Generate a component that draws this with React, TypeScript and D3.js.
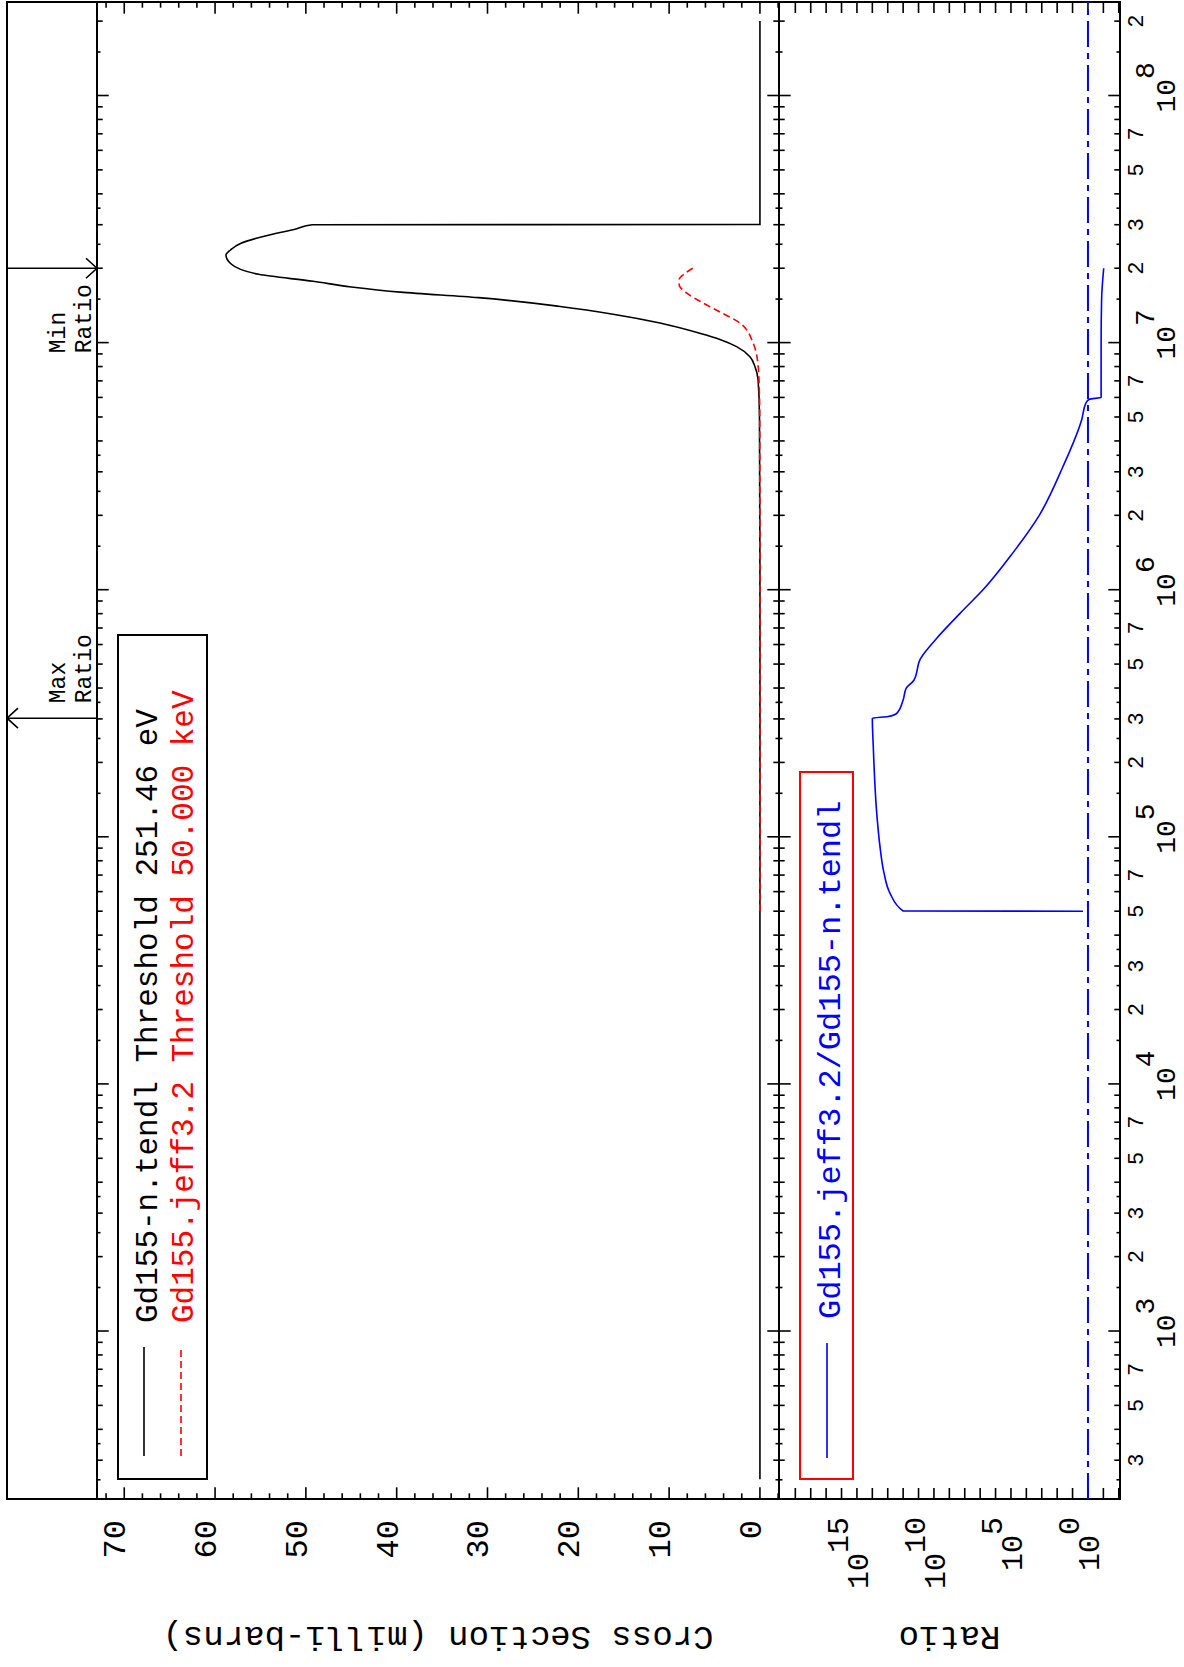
import React from 'react';
import * as d3 from 'd3';

// Gd155 (n,x) cross sections, energies in eV, values in milli-barns
const tendlEnergy = [251.46, 1e3, 1e5, 1e6, 5e6, 7.06e6, 8.0e6, 8.77e6, 9.63e6, 1.03e7, 1.09e7, 1.2e7, 1.3e7, 1.4e7, 1.52e7, 1.6e7, 1.68e7, 1.77e7, 1.89e7, 2.09e7, 2.26e7, 2.37e7, 2.52e7, 2.69e7, 2.89e7, 3.0e7, 3.005e7, 2.0e8];
const tendlXs = [0, 0, 0, 0, 0.05, 0.2, 0.55, 1.1, 2.57, 4.4, 6.6, 11, 16, 22, 31, 39.6, 45, 49.2, 55.2, 58.3, 58.8, 58.3, 57.2, 54.7, 51.0, 49.3, 0, 0];

const jeffEnergy = [5.0e4, 1e6, 5e6, 6.64e6, 8.0e6, 9.93e6, 1.2e7, 1.33e7, 1.47e7, 1.6e7, 1.72e7, 1.8e7, 1.9e7, 2.0e7];
const jeffXs = [0, 0, 0.02, 0.08, 0.19, 0.74, 2.2, 4.4, 6.6, 8.2, 8.9, 8.9, 8.3, 7.4];

// jeff3.2 / tendl ratio
const ratioEnergy = [5.0e4, 5.01e4, 5.92e4, 7.2e4, 9.15e4, 1.25e5, 2.32e5, 3.02e5, 3.07e5, 3.16e5, 3.58e5, 4.0e5, 4.3e5, 5.25e5, 6.4e5, 8.0e5, 1.02e6, 1.39e6, 2.0e6, 3.13e6, 4.9e6, 5.7e6, 5.9e6, 6.0e6, 1.0e7, 1.5e7, 2.0e7];
const ratioValue = [2.1, 1e12, 7.2e12, 1.8e13, 3.2e13, 5.2e13, 8.7e13, 1.0e14, 9.3e12, 2.6e12, 1.0e12, 6.3e11, 2e11, 7.6e10, 6e9, 2.1e8, 4.8e6, 8.9e4, 1.45e3, 44, 2.5, 1.35, 0.8, 0.14, 0.14, 0.13, 0.095];

const xsTicks = [0, 10, 20, 30, 40, 50, 60, 70];
const ratioTickExp = [0, 5, 10, 15];
const decades = [3, 4, 5, 6, 7, 8];
const digitLabels = [2, 3, 5, 7];

const legendLabels = ['Gd155-n.tendl Threshold 251.46 eV', 'Gd155.jeff3.2 Threshold 50.000 keV'];
const ratioLegend = 'Gd155.jeff3.2/Gd155-n.tendl';

const W = 1184;
const H = 1667;
const FONT = "'Liberation Mono', 'DejaVu Sans Mono', monospace";

// plot is laid out landscape (u = energy direction, v = down) then turned a quarter turn
const u0 = 168, u1 = 1665;
const v0 = 7, vTop = 97, vMid = 779, vBot = 1120;

export default function App() {
  const xE = d3.scaleLog().domain([209, 2.39e8]).range([u0, u1]);
  const yXs = d3.scaleLinear().domain([-2.1, 73.0]).range([vMid, vTop]);
  const yR = d3.scaleLog().domain([Math.pow(10, -2.08), Math.pow(10, 20.06)]).range([vBot, vMid]);

  const xsLine = d3.line<[number, number]>()
    .x(d => xE(d[0]))
    .y(d => yXs(d[1]))
    .curve(d3.curveMonotoneX);
  const ratioLine = d3.line<[number, number]>()
    .x(d => xE(d[0]))
    .y(d => yR(d[1]))
    .curve(d3.curveMonotoneX);

  const tendl = tendlEnergy.map((e, i) => [e, tendlXs[i]] as [number, number]);
  const jeff = jeffEnergy.map((e, i) => [e, jeffXs[i]] as [number, number]);
  const ratio = ratioEnergy.map((e, i) => [e, ratioValue[i]] as [number, number]);

  const maxIdx = d3.maxIndex(ratioValue);
  const minIdx = d3.minIndex(ratioValue);
  const uMax = xE(ratioEnergy[maxIdx]);
  const uMin = xE(ratioEnergy[minIdx]);

  // energy ticks
  const eTicks: { u: number; len: number }[] = [];
  for (let d = 2; d <= 8; d++) {
    [1, 1.5, 2, 2.5, 3, 3.5, 4, 5, 6, 7, 8, 9].forEach(m => {
      const e = m * Math.pow(10, d);
      const [lo, hi] = xE.domain();
      if (e < lo || e > hi) return;
      const len = m === 1 ? 11.7 : (m === 1.5 || m === 2.5 || m === 3.5) ? 3.5 : 5.7;
      eTicks.push({ u: xE(e), len });
    });
  }
  const eDigits: { u: number; m: number }[] = [];
  for (let d = 2; d <= 8; d++) {
    digitLabels.forEach(m => {
      const e = m * Math.pow(10, d);
      const [lo, hi] = xE.domain();
      if (e >= lo && e <= hi) eDigits.push({ u: xE(e), m });
    });
  }

  const xsMinor = d3.range(-2, 73, 2);
  const ratioMinor = d3.range(-2, 20, 1);

  return (
    <svg width={W} height={H} style={{ position: 'absolute', left: 0, top: 0, display: 'block', background: '#fff' }}>
      <g transform={`translate(0,${H}) rotate(-90)`} fontFamily={FONT}>
        {/* frame and panel dividers */}
        <rect x={u0} y={v0} width={u1 - u0} height={vBot - v0} fill="none" stroke="#000" strokeWidth={2} />
        <line x1={u0} x2={u1} y1={vTop} y2={vTop} stroke="#000" strokeWidth={2} />
        <line x1={u0} x2={u1} y1={vMid} y2={vMid} stroke="#000" strokeWidth={2} />

        {/* energy ticks */}
        {eTicks.map((t, i) => (
          <g key={'et' + i} stroke="#000" strokeWidth={1.6}>
            <line x1={t.u} x2={t.u} y1={vTop} y2={vTop + t.len} />
            <line x1={t.u} x2={t.u} y1={vMid - t.len} y2={vMid + t.len} />
            <line x1={t.u} x2={t.u} y1={vBot - t.len} y2={vBot} />
          </g>
        ))}
        {decades.map(d => (
          <text key={'ed' + d} x={xE(Math.pow(10, d)) - 17} y={1175} fontSize={28} fill="#000">
            10<tspan dy={-21}>{d}</tspan>
          </text>
        ))}
        {eDigits.map((t, i) => (
          <text key={'eg' + i} x={t.u} y={1143} fontSize={22} textAnchor="middle" fill="#000">{t.m}</text>
        ))}

        {/* cross section axis */}
        {xsMinor.map(val => {
          const len = val % 10 === 0 ? 11.7 : 5.7;
          const v = yXs(val);
          return (
            <g key={'xt' + val} stroke="#000" strokeWidth={1.6}>
              <line x1={u0} x2={u0 + len} y1={v} y2={v} />
              <line x1={u1 - len} x2={u1} y1={v} y2={v} />
            </g>
          );
        })}
        {xsTicks.map(val => (
          <text key={'xl' + val} x={147} y={yXs(val) + 1} fontSize={32} textAnchor="end" fill="#000">{val}</text>
        ))}

        {/* ratio axis */}
        {ratioMinor.map(k => {
          const v = yR(Math.pow(10, k));
          return (
            <g key={'rt' + k} stroke="#000" strokeWidth={1.6}>
              <line x1={u0} x2={u0 + 11} y1={v} y2={v} />
              <line x1={u1 - 11} x2={u1} y1={v} y2={v} />
            </g>
          );
        })}
        {ratioTickExp.map(k => (
          <text key={'rl' + k} x={150} y={yR(Math.pow(10, k)) + 11} fontSize={30} textAnchor="end" fill="#000">
            10<tspan dy={-20}>{k}</tspan>
          </text>
        ))}

        {/* axis titles */}
        <text transform={`translate(40,${(vTop + vMid) / 2}) rotate(-90)`} fontSize={34} textAnchor="middle" fill="#000">Cross Section (milli-barns)</text>
        <text transform={`translate(40,${(vMid + vBot) / 2}) rotate(-90)`} fontSize={34} textAnchor="middle" fill="#000">Ratio</text>

        {/* curves */}
        <path d={xsLine(tendl) || ''} fill="none" stroke="#000" strokeWidth={1.6} />
        <path d={xsLine(jeff) || ''} fill="none" stroke="#ff0000" strokeWidth={1.6} strokeDasharray="7,4" />
        <line x1={u0} x2={u1} y1={yR(1)} y2={yR(1)} stroke="#0000ff" strokeWidth={2} strokeDasharray="26,6,6,6" />
        <path d={ratioLine(ratio) || ''} fill="none" stroke="#0000ff" strokeWidth={1.6} />

        {/* max / min ratio markers */}
        <g stroke="#000" strokeWidth={1.6} fill="none">
          <line x1={uMax} x2={uMax} y1={vTop} y2={v0} />
          <polyline points={`${uMax - 10},${v0 + 11} ${uMax},${v0} ${uMax + 10},${v0 + 11}`} />
          <line x1={uMin} x2={uMin} y1={v0} y2={vTop} />
          <polyline points={`${uMin - 10},${vTop - 11} ${uMin},${vTop} ${uMin + 10},${vTop - 11}`} />
        </g>
        <text x={uMax + 15} y={65} fontSize={23} fill="#000">Max</text>
        <text x={uMax + 15} y={91} fontSize={23} fill="#000">Ratio</text>
        <text x={uMin - 85} y={65} fontSize={23} fill="#000">Min</text>
        <text x={uMin - 85} y={91} fontSize={23} fill="#000">Ratio</text>

        {/* legends */}
        <rect x={188} y={118} width={1032 - 188} height={207 - 118} fill="#fff" stroke="#000" strokeWidth={2} />
        <line x1={211} x2={320} y1={144} y2={144} stroke="#000" strokeWidth={1.6} />
        <line x1={211} x2={320} y1={181} y2={181} stroke="#ff0000" strokeWidth={1.6} strokeDasharray="7,4" />
        <text x={344} y={157} fontSize={31} fill="#000">{legendLabels[0]}</text>
        <text x={344} y={193} fontSize={31} fill="#ff0000">{legendLabels[1]}</text>

        <rect x={188} y={800} width={895 - 188} height={853 - 800} fill="#fff" stroke="#ff0000" strokeWidth={2} />
        <line x1={209} x2={324} y1={827} y2={827} stroke="#0000ff" strokeWidth={1.6} />
        <text x={348} y={840} fontSize={32} fill="#0000ff">{ratioLegend}</text>
      </g>
    </svg>
  );
}
